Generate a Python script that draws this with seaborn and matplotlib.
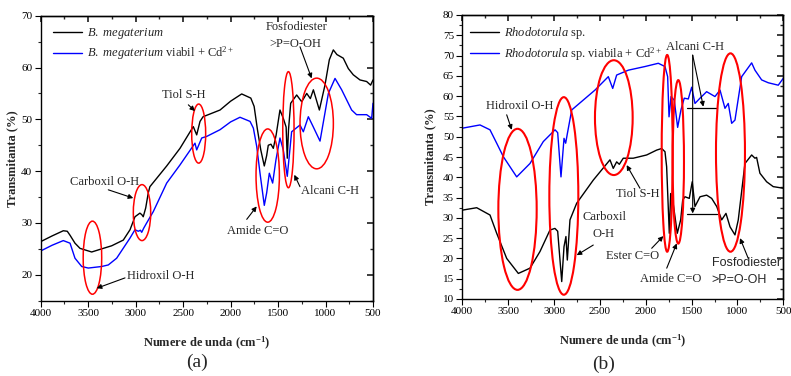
import numpy as np
import pandas as pd
import matplotlib
matplotlib.use("Agg")
import matplotlib.pyplot as plt
from matplotlib.patches import Ellipse
from matplotlib.ticker import MultipleLocator
import seaborn as sns

# ---------------- data (a) B. megaterium ----------------
wn_a_black = [4000, 3880, 3762, 3720, 3690, 3639, 3586, 3463, 3341, 3252, 3130, 3059, 3007, 2955, 2935,
              2920, 2894, 2867, 2850, 2673, 2533, 2393, 2357, 2322, 2290, 2111, 2000, 1883, 1787,
              1752, 1717, 1682, 1645, 1620, 1603, 1575, 1550, 1520, 1480, 1445, 1415, 1403, 1390,
              1367, 1304, 1251, 1198, 1160, 1128, 1065, 1006, 960, 918, 880, 813, 760, 708, 637,
              567, 525, 500]
t_a_black = [26.4, 27.5, 28.5, 28.4, 27.6, 26.1, 25.1, 24.4, 25.1, 25.6, 26.7, 28.7, 31.2, 31.9, 31.6,
             31.2, 32.9, 35.8, 37.0, 41.0, 44.4, 48.6, 47.0, 49.6, 50.5, 51.8, 53.5, 54.9, 54.1,
             52.5, 48.0, 44.1, 41.0, 43.0, 45.0, 45.2, 44.4, 47.0, 51.8, 50.2, 48.5, 42.5, 48.0,
             53.1, 54.7, 53.4, 55.0, 54.0, 55.7, 51.8, 56.6, 61.5, 63.4, 62.5, 61.8, 59.8, 58.6, 57.6,
             57.3, 56.6, 57.6]

wn_a_blue = [4000, 3880, 3762, 3691, 3639, 3568, 3499, 3358, 3288, 3200, 3059, 3007, 2972, 2950,
             2936, 2915, 2884, 2814, 2673, 2533, 2375, 2357, 2304, 2252, 2111, 2000, 1901, 1795,
             1760, 1725, 1690, 1645, 1620, 1592, 1557, 1522, 1480, 1445, 1403, 1357, 1269, 1234,
             1181, 1128, 1058, 970, 900, 830, 725, 673, 567, 514, 500]
t_a_blue = [24.6, 25.7, 26.6, 26.1, 23.2, 21.6, 21.3, 21.6, 21.9, 23.2, 27.1, 28.7, 28.4, 28.6,
            28.2, 29.0, 30.0, 32.2, 37.7, 41.2, 45.4, 44.1, 46.4, 46.7, 48.0, 49.5, 50.4, 49.6,
            48.3, 44.8, 39.6, 33.4, 35.8, 39.6, 37.7, 42.2, 46.4, 44.1, 39.0, 47.6, 48.9, 47.6,
            50.5, 48.5, 45.8, 55.0, 57.9, 55.7, 51.8, 50.9, 50.9, 50.2, 53.1]

# ---------------- data (b) Rhodotorula sp. ----------------
wn_b_black = [4000, 3843, 3698, 3625, 3516, 3389, 3262, 3153, 3044, 2990, 2960, 2916, 2891, 2870,
              2855, 2826, 2753, 2572, 2390, 2354, 2317, 2288, 2245, 2136, 1990, 1881, 1826, 1790,
              1772, 1743, 1728, 1706, 1656, 1619, 1597, 1572, 1525, 1493, 1463, 1408, 1336, 1281,
              1226, 1172, 1125, 1081, 1027, 991, 918, 845, 809, 791, 755, 682, 610, 500]
t_b_black = [31.9, 32.5, 30.7, 26.2, 20.0, 16.3, 17.6, 21.7, 27.0, 27.4, 26.7, 14.3, 22.9, 25.4,
             19.6, 29.5, 33.6, 39.3, 44.3, 42.2, 43.8, 43.2, 44.7, 44.7, 45.5, 46.7, 47.1, 46.3,
             42.6, 26.2, 36.0, 34.4, 26.2, 29.5, 34.4, 35.2, 34.8, 38.9, 32.8, 35.2, 35.6, 34.8,
             32.8, 29.5, 31.1, 27.8, 25.8, 29.5, 43.4, 45.5, 44.7, 44.9, 41.0, 38.9, 37.7, 37.3]

wn_b_blue = [4000, 3807, 3698, 3625, 3553, 3407, 3262, 3117, 2989, 2960, 2924, 2891, 2873, 2855,
             2807, 2553, 2408, 2360, 2317, 2190, 2008, 1863, 1790, 1761, 1746, 1724, 1689, 1652,
             1616, 1580, 1536, 1499, 1463, 1408, 1336, 1245, 1190, 1136, 1100, 1063, 1027, 954,
             845, 809, 736, 664, 555, 500]
t_b_blue = [52.1, 52.9, 51.7, 48.4, 45.1, 40.1, 43.4, 48.8, 51.7, 51.0, 40.1, 49.6, 48.4, 50.7,
            56.6, 61.5, 64.8, 61.9, 65.2, 66.4, 67.3, 68.1, 67.3, 64.8, 54.9, 59.9, 59.0, 52.3,
            56.6, 59.5, 59.3, 62.2, 58.2, 59.5, 61.1, 59.9, 61.5, 57.0, 58.2, 53.3, 54.1, 64.8,
            68.2, 66.4, 64.0, 63.3, 62.7, 64.4]

labels_a = [r"$\it{B.\ megaterium}$", r"$\it{B.\ megaterium}$ viabil + Cd$^{2+}$"]
labels_b = [r"$\it{Rhodotorula}$ sp.", r"$\it{Rhodotorula}$ sp. viabila + Cd$^{2+}$"]

# ---------------- style ----------------
sns.set_theme(style="ticks")
plt.rcParams["font.family"] = ["Liberation Serif", "DejaVu Sans"]
plt.rcParams["mathtext.fontset"] = "custom"
plt.rcParams["mathtext.rm"] = "Liberation Serif"
plt.rcParams["mathtext.it"] = "Liberation Serif:italic"
plt.rcParams["mathtext.bf"] = "Liberation Serif:bold"
plt.rcParams["axes.linewidth"] = 1.0

W, H = 791, 376
fig = plt.figure(figsize=(W / 100, H / 100), dpi=100)
ax1 = fig.add_axes([40.7 / W, 1 - 300.7 / H, (373 - 40.7) / W, (300.7 - 15.7) / H])
ax2 = fig.add_axes([462.3 / W, 1 - 299 / H, (783.3 - 462.3) / W, (299 - 15) / H])


def draw(ax, wk, tk, wb, tb, labels):
    df = pd.concat([
        pd.DataFrame({"wn": wk, "T": tk, "s": labels[0]}),
        pd.DataFrame({"wn": wb, "T": tb, "s": labels[1]}),
    ])
    sns.lineplot(data=df, x="wn", y="T", hue="s", palette=["black", "#0000ff"],
                 estimator=None, sort=True, linewidth=1.0, ax=ax)


draw(ax1, wn_a_black, t_a_black, wn_a_blue, t_a_blue, labels_a)
draw(ax2, wn_b_black, t_b_black, wn_b_blue, t_b_blue, labels_b)

ax1.set_xlim(4000, 500)
ax1.set_ylim(15, 70)
ax2.set_xlim(4000, 500)
ax2.set_ylim(10, 80)

tick_fs = 8
for ax, ymaj, ymin, lp in [(ax1, 10, 5, 2), (ax2, 5, 2.5, 5)]:
    ax.xaxis.set_major_locator(MultipleLocator(500))
    ax.xaxis.set_minor_locator(MultipleLocator(250))
    ax.yaxis.set_major_locator(MultipleLocator(ymaj))
    ax.yaxis.set_minor_locator(MultipleLocator(ymin))
    ax.tick_params(which="major", direction="out", length=4, width=0.8, labelsize=tick_fs, pad=2,
                   colors="black")
    ax.tick_params(which="minor", direction="out", length=2, width=0.8)
    for sp in ax.spines.values():
        sp.set_visible(True)
        sp.set_color("black")
    sx = ax.secondary_xaxis("top")
    sx.xaxis.set_major_locator(MultipleLocator(500))
    sx.xaxis.set_minor_locator(MultipleLocator(250))
    sx.tick_params(which="both", direction="in", labeltop=False)
    sx.tick_params(which="major", length=4)
    sx.tick_params(which="minor", length=2)
    sy = ax.secondary_yaxis("right")
    sy.yaxis.set_major_locator(MultipleLocator(ymaj))
    sy.yaxis.set_minor_locator(MultipleLocator(ymin))
    sy.tick_params(which="both", direction="in", labelright=False)
    sy.tick_params(which="major", length=4)
    sy.tick_params(which="minor", length=2)
    ax.set_xlabel(r"Numere de unda (cm$^{\mathbf{-1}}$)", fontsize=9, fontweight="bold", labelpad=12)
    ax.set_ylabel("Transmitanta (%)", fontsize=9, fontweight="bold", labelpad=lp)

# legends
ax1.legend(frameon=False, fontsize=9, loc="upper left", bbox_to_anchor=(0.015, 0.99),
           handlelength=2.3, handletextpad=0.4, labelspacing=0.3, borderaxespad=0.2)
ax2.legend(frameon=False, fontsize=9, loc="upper left", bbox_to_anchor=(0.0, 0.99),
           handlelength=2.3, handletextpad=0.4, labelspacing=0.3, borderaxespad=0.2)

# ellipses
ell_a = [(3455, 23.3, 195, 14.1), (2933, 32.0, 183, 10.8), (2336, 47.25, 147, 11.4),
         (1609, 39.15, 246, 18.0), (1391, 48.0, 119, 22.4), (1093, 49.2, 351, 17.5)]
ell_b = [(3398, 32.1, 418, 39.7), (2893, 35.4, 316, 48.7), (2348, 54.7, 411, 28.3),
         (1766, 45.9, 120, 48.5), (1645, 43.8, 124, 40.3), (1076, 46.1, 316, 48.9)]
for ax, ells, lw in [(ax1, ell_a, 1.1), (ax2, ell_b, 1.5)]:
    for cx, cy, w, h in ells:
        ax.add_patch(Ellipse((cx, cy), w, h, fill=False, edgecolor="red", linewidth=lw, zorder=3))

arrow = dict(arrowstyle="-|>", color="black", lw=0.8, mutation_scale=7, shrinkA=0, shrinkB=0)
afs = 9


def note(ax, text, xyt, ha="center", family=None):
    kw = {}
    if family:
        kw["family"] = family
    ax.text(xyt[0], xyt[1], text, ha=ha, va="center", fontsize=afs, **kw)


def arr(ax, start, end):
    ax.annotate("", xy=end, xytext=start, arrowprops=arrow)


# panel (a) annotations
note(ax1, "Fosfodiester", (1304, 67.8))
note(ax1, ">P=O-OH", (1321, 64.6))
arr(ax1, (1269, 64.0), (1146, 57.9))
note(ax1, "Tiol S-H", (2491, 54.6))
arr(ax1, (2445, 52.8), (2375, 51.6))
note(ax1, "Carboxil O-H", (3323, 37.9))
arr(ax1, (3288, 36.4), (3025, 34.8))
note(ax1, "Hidroxil O-H", (2735, 19.8))
arr(ax1, (3112, 19.4), (3410, 17.4))
note(ax1, "Amide C=O", (1716, 28.5))
arr(ax1, (1830, 30.7), (1725, 33.2))
note(ax1, "Alcani C-H", (958, 36.1))
arr(ax1, (1269, 37.0), (1329, 39.3))

# panel (b) annotations
note(ax2, "Hidroxil O-H", (3371, 57.6))
arr(ax2, (3516, 55.4), (3461, 51.7))
note(ax2, "Tiol S-H", (2090, 35.9))
arr(ax2, (2063, 37.3), (2208, 43.0))
note(ax2, "Carboxil", (2453, 30.1))
note(ax2, "O-H", (2463, 26.0))
arr(ax2, (2572, 23.3), (2753, 20.8))
note(ax2, "Ester C=O", (2144, 20.7))
arr(ax2, (1935, 22.5), (1808, 25.5))
note(ax2, "Amide C=O", (1732, 14.9))
arr(ax2, (1771, 17.6), (1662, 23.7))
note(ax2, "Fosfodiester", (1281, 18.8), ha="left", family=["Liberation Sans", "DejaVu Sans"])
note(ax2, ">P=O-OH", (1281, 14.7), ha="left", family=["Liberation Sans", "DejaVu Sans"])
arr(ax2, (882, 20.0), (972, 25.0))
note(ax2, "Alcani C-H", (1463, 72.2))
arr(ax2, (1488, 70.1), (1488, 31.1))
arr(ax2, (1488, 70.1), (1372, 57.4))
ax2.plot([1553, 1226], [57.2, 57.2], color="black", lw=0.9)
ax2.plot([1553, 1226], [31.0, 31.0], color="black", lw=0.9)

fig.text(196.7 / W, 1 - 362.7 / H, "(a)", ha="center", va="center", fontsize=14)
fig.text(603.3 / W, 1 - 364.3 / H, "(b)", ha="center", va="center", fontsize=14)

fig.savefig("out.png", dpi=100)
